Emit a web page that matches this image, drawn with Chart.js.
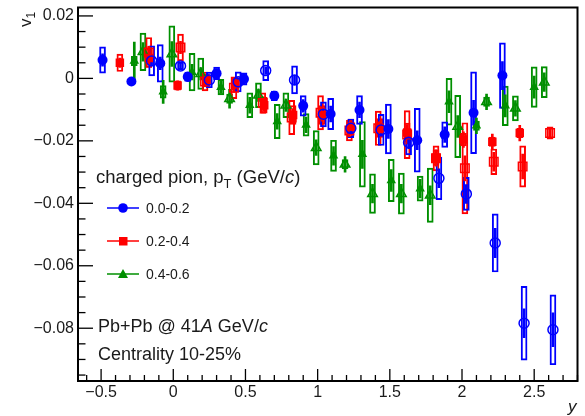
<!DOCTYPE html>
<html><head><meta charset="utf-8">
<script src="https://cdn.jsdelivr.net/npm/chart.js@4"></script>
<style>
html,body{margin:0;padding:0;background:#fff;}
#wrap{position:relative;width:585px;height:416px;font-family:"Liberation Sans",Arial,Helvetica,sans-serif;color:#1a1a1a;overflow:hidden;}
canvas{position:absolute;left:0;top:0;}
.t{position:absolute;white-space:nowrap;line-height:1;}
.sub{font-size:0.7em;position:relative;top:0.35em;}
</style></head><body>
<div id="wrap">
<canvas id="c" width="585" height="416"></canvas>
<div class="t" id="ytitle" style="left:17px;top:27px;font-size:17px;transform-origin:left top;transform:rotate(-90deg);">v<span class="sub">1</span></div>
<div class="t" style="left:568px;top:398px;font-size:17px;font-style:italic;">y</div>
<div class="t" style="left:96px;top:168px;font-size:18.5px;">charged pion, p<span class="sub">T</span> (GeV/<i>c</i>)</div>
<svg style="position:absolute;left:100px;top:195px;" width="50" height="95">
  <line x1="7" y1="13" x2="39" y2="13" stroke="#0000ff" stroke-width="1.5"/>
  <circle cx="23" cy="13" r="4.8" fill="#0000ff"/>
  <line x1="7" y1="46" x2="39" y2="46" stroke="#ff0000" stroke-width="1.5"/>
  <rect x="19" y="42" width="8.5" height="8.5" fill="#ff0000"/>
  <line x1="7" y1="79" x2="39" y2="79" stroke="#008f00" stroke-width="1.5"/>
  <polygon points="23,74 28,83 18,83" fill="#008f00"/>
</svg>
<div class="t" style="left:146px;top:201px;font-size:14px;">0.0-0.2</div>
<div class="t" style="left:146px;top:234px;font-size:14px;">0.2-0.4</div>
<div class="t" style="left:146px;top:267px;font-size:14px;">0.4-0.6</div>
<div class="t" style="left:98px;top:317px;font-size:18px;">Pb+Pb @ 41<i>A</i> GeV/<i>c</i></div>
<div class="t" style="left:98px;top:345px;font-size:18px;">Centrality 10-25%</div>
</div>
<script>
// ---------- data ----------
const X_MIN = -0.66, X_MAX = 2.8;
const Y_MIN = -0.0969, Y_MAX = 0.0227;
const xTickStep = 0.5, yTickStep = 0.02;
const legendLabels = ['0.0-0.2', '0.2-0.4', '0.4-0.6'];

// pT 0.0-0.2 (blue), filled points
const blueFilledX = [-0.49,-0.29,-0.09,0.10,0.30,0.49,0.70,0.90,1.09,1.29,1.49,1.69,1.88,2.08,2.28];
const blueFilledY = [0.0059,-0.0010,0.0048,0.0005,0.0016,-0.0002,-0.0056,-0.0088,-0.0114,-0.0101,-0.0162,-0.0198,-0.0180,-0.0110,0.0009];
const blueFilledStat = [0.0020,0.0012,0.0020,0.0015,0.0015,0.0015,0.0015,0.0020,0.0025,0.0025,0.0030,0.0030,0.0025,0.0040,0.0045];
const blueFilledSys = [0.0042,0.0008,0.0060,0.0015,0.0020,0.0020,0.0015,0.0033,0.0050,0.0046,0.0080,0.0102,0.0041,0.0131,0.0105];
// pT 0.0-0.2 (blue), open points
const blueOpenX = [-0.15,0.05,0.25,0.45,0.64,0.84,1.04,1.23,1.44,1.63,1.84,2.03,2.23,2.43,2.63];
const blueOpenY = [0.0056,0.0040,-0.0005,-0.0011,0.0025,-0.0005,-0.0115,-0.0160,-0.0165,-0.0205,-0.0320,-0.0370,-0.0527,-0.0784,-0.0805];
const blueOpenStat = [0.0015,0.0010,0.0012,0.0012,0.0012,0.0015,0.0015,0.0015,0.0020,0.0020,0.0030,0.0030,0.0047,0.0046,0.0054];
const blueOpenSys = [0.0048,0.0012,0.0025,0.0032,0.0032,0.0045,0.0040,0.0030,0.0050,0.0040,0.0068,0.0053,0.0093,0.0118,0.0112];

// pT 0.2-0.4 (red), filled points
const redFilledX = [-0.37,-0.17,0.03,0.23,0.43,0.63,0.83,1.03,1.23,1.43,1.62,1.82,2.01,2.21,2.40];
const redFilledY = [0.0050,0.0065,-0.0023,-0.0007,-0.0017,-0.0086,-0.0117,-0.0117,-0.0155,-0.0159,-0.0173,-0.0254,-0.0196,-0.0203,-0.0175];
const redFilledStat = [0.0015,0.0020,0.0015,0.0015,0.0015,0.0020,0.0020,0.0020,0.0020,0.0020,0.0025,0.0025,0.0025,0.0025,0.0025];
const redFilledSys = [0.0028,0.0030,0.0015,0.0020,0.0020,0.0025,0.0030,0.0030,0.0025,0.0030,0.0030,0.0025,0.0020,0.0015,0.0015];
// pT 0.2-0.4 (red), open points
const redOpenX = [-0.17,0.05,0.22,0.42,0.62,0.82,1.02,1.22,1.42,1.62,1.82,2.02,2.22,2.42,2.61];
const redOpenY = [0.0083,0.0099,-0.0010,-0.0030,-0.0079,-0.0125,-0.0110,-0.0167,-0.0160,-0.0180,-0.0256,-0.0288,-0.0267,-0.0282,-0.0175];
const redOpenStat = [0.0020,0.0020,0.0015,0.0015,0.0020,0.0020,0.0020,0.0020,0.0020,0.0030,0.0025,0.0040,0.0030,0.0040,0.0015];
const redOpenSys = [0.0048,0.0043,0.0030,0.0035,0.0033,0.0055,0.0055,0.0033,0.0055,0.0077,0.0040,0.0146,0.0041,0.0066,0.0020];

// pT 0.4-0.6 (green), filled points
const greenFilledX = [-0.27,-0.07,0.13,0.33,0.53,0.72,0.92,1.11,1.31,1.51,1.71,1.91,2.10,2.30,2.50];
const greenFilledY = [0.0056,-0.0043,0.0020,-0.0028,-0.0086,-0.0138,-0.0149,-0.0248,-0.0243,-0.0327,-0.0353,-0.0075,-0.0152,-0.0088,-0.0028];
const greenFilledStat = [0.0060,0.0037,0.0025,0.0020,0.0025,0.0025,0.0025,0.0030,0.0045,0.0035,0.0030,0.0035,0.0025,0.0035,0.0035];
const greenFilledSys = [0.0015,0.0020,0.0060,0.0025,0.0040,0.0055,0.0036,0.0050,0.0105,0.0068,0.0040,0.0075,0.0015,0.0063,0.0065];
// pT 0.4-0.6 (green), open points
const greenOpenX = [-0.21,-0.01,0.19,0.39,0.59,0.78,0.99,1.19,1.38,1.58,1.78,1.97,2.17,2.37,2.57];
const greenOpenY = [0.0085,0.0078,0.0015,-0.0065,-0.0054,-0.0086,-0.0222,-0.0275,-0.0369,-0.0369,-0.0374,-0.0154,-0.0075,-0.0096,-0.0012];
const greenOpenStat = [0.0030,0.0040,0.0020,0.0030,0.0020,0.0020,0.0025,0.0025,0.0030,0.0030,0.0030,0.0035,0.0025,0.0025,0.0030];
const greenOpenSys = [0.0060,0.0090,0.0050,0.0015,0.0040,0.0040,0.0055,0.0015,0.0063,0.0066,0.0087,0.0100,0.0015,0.0040,0.0050];

// ---------- styles ----------
const BLUE = '#0000ff', RED = '#ff0000', GREEN = '#008f00';
const FONT = '"Liberation Sans", Arial, Helvetica, sans-serif';

const groups = [
  {x: greenOpenX, y: greenOpenY, stat: greenOpenStat, sys: greenOpenSys, color: GREEN, style: 'triangle', filled: false, r: 5.5},
  {x: greenFilledX, y: greenFilledY, stat: greenFilledStat, sys: greenFilledSys, color: GREEN, style: 'triangle', filled: true, r: 5.5},
  {x: redOpenX, y: redOpenY, stat: redOpenStat, sys: redOpenSys, color: RED, style: 'rect', filled: false, r: 6},
  {x: redFilledX, y: redFilledY, stat: redFilledStat, sys: redFilledSys, color: RED, style: 'rect', filled: true, r: 6},
  {x: blueOpenX, y: blueOpenY, stat: blueOpenStat, sys: blueOpenSys, color: BLUE, style: 'circle', filled: false, r: 5},
  {x: blueFilledX, y: blueFilledY, stat: blueFilledStat, sys: blueFilledSys, color: BLUE, style: 'circle', filled: true, r: 5}
];

const rangeData = (xs, ys, es) => xs.map((v, i) => ({x: v, y: [ys[i] - es[i], ys[i] + es[i]]}));
const pointData = (xs, ys) => xs.map((v, i) => ({x: v, y: ys[i]}));

const datasets = [];
groups.forEach((g, gi) => {
  datasets.push({type: 'bar', data: rangeData(g.x, g.y, g.sys), backgroundColor: 'rgba(0,0,0,0)',
    borderColor: g.color, borderWidth: 1.3, borderSkipped: false, barThickness: 6, grouped: false, order: 30 - gi});
  datasets.push({type: 'bar', data: rangeData(g.x, g.y, g.stat), backgroundColor: g.color,
    borderWidth: 0, barThickness: 2, grouped: false, order: 20 - gi});
  datasets.push({type: 'scatter', data: pointData(g.x, g.y), pointStyle: g.style, pointRadius: g.r,
    backgroundColor: g.filled ? g.color : 'rgba(0,0,0,0)', borderColor: g.color,
    borderWidth: g.filled ? 0 : 1.5, order: 10 - gi});
});

const fmt = v => {
  if (Math.abs(v) < 1e-9) return '0';
  return String(parseFloat(v.toFixed(4))).replace('-', '\u2212');
};

const rootAxes = {
  id: 'rootAxes',
  afterDatasetsDraw(chart) {
    const {ctx, chartArea: a, scales: {x, y}} = chart;
    ctx.save();
    ctx.strokeStyle = '#000';
    ctx.lineWidth = 1.3;
    for (let k = Math.ceil(X_MIN * 10); k <= Math.floor(X_MAX * 10); k++) {
      const px = x.getPixelForValue(k / 10);
      const len = (k % 5 === 0) ? 12 : 6;
      ctx.beginPath(); ctx.moveTo(px, a.bottom); ctx.lineTo(px, a.bottom - len); ctx.stroke();
    }
    for (let k = Math.ceil(Y_MIN * 200); k <= Math.floor(Y_MAX * 200); k++) {
      const py = y.getPixelForValue(k / 200);
      const len = (k % 4 === 0) ? 15 : 7.5;
      ctx.beginPath(); ctx.moveTo(a.left, py); ctx.lineTo(a.left + len, py); ctx.stroke();
    }
    ctx.lineWidth = 2;
    ctx.strokeRect(a.left, a.top, a.right - a.left, a.bottom - a.top);
    ctx.restore();
  }
};

new Chart(document.getElementById('c'), {
  type: 'scatter',
  data: {datasets},
  options: {
    responsive: false,
    animation: false,
    devicePixelRatio: 1,
    layout: {padding: {left: 0, right: 4, top: 4, bottom: 0}},
    plugins: {legend: {display: false}, tooltip: {enabled: false}},
    scales: {
      x: {
        type: 'linear', min: X_MIN, max: X_MAX, offset: false,
        grid: {display: false, drawTicks: false}, border: {display: false},
        ticks: {stepSize: xTickStep, includeBounds: false, autoSkip: false, maxRotation: 0,
          padding: 2, color: '#1a1a1a', font: {family: FONT, size: 16}, callback: fmt},
        afterFit(s) { s.height = 35; s.paddingLeft = 0; s.paddingRight = 0; }
      },
      y: {
        type: 'linear', min: Y_MIN, max: Y_MAX,
        grid: {display: false, drawTicks: false}, border: {display: false},
        ticks: {stepSize: yTickStep, includeBounds: false, autoSkip: false,
          padding: 4, color: '#1a1a1a', font: {family: FONT, size: 16}, callback: fmt},
        afterFit(s) { s.width = 78; s.paddingTop = 0; s.paddingBottom = 0; }
      }
    }
  },
  plugins: [rootAxes]
});
</script>
</body></html>
